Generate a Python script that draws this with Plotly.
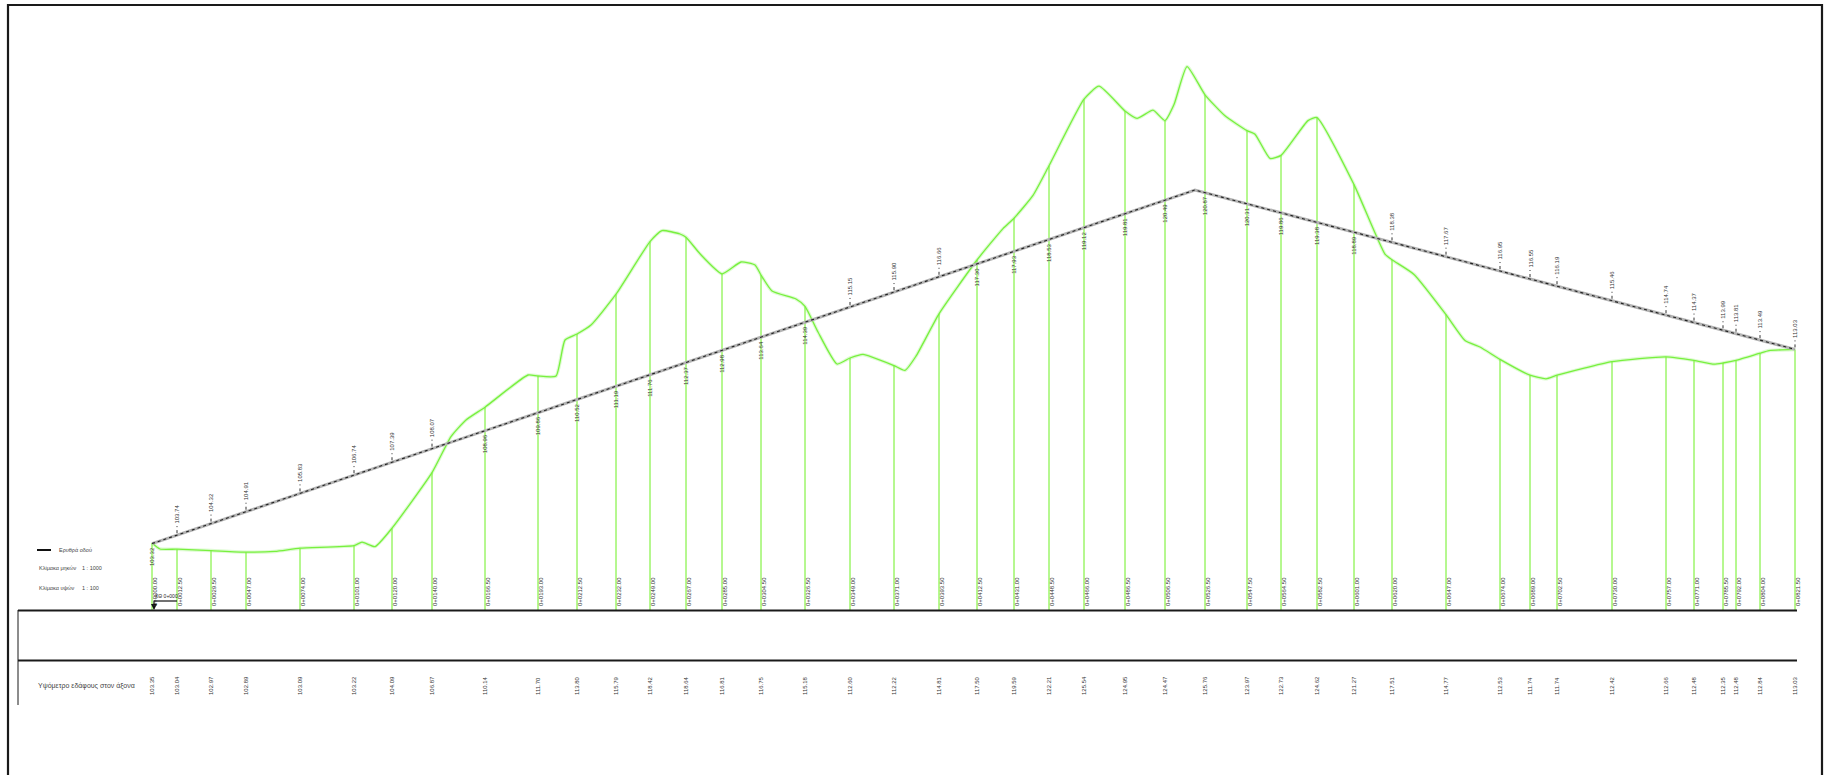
import numpy as np
import plotly.graph_objects as go

# ---------------- data (chainage in m, elevations in m) ----------------
DATUM = 100.0

station_ch = [0, 12.5, 29.5, 47, 74, 101, 120, 140, 166.5, 193,
              212.5, 232, 249, 267, 285, 304.5, 326.5, 349, 371, 393.5,
              412.5, 431, 448.5, 466, 486.5, 506.5, 526.5, 547.5, 564.5, 582.5,
              601, 620, 647, 674, 689, 702.5, 730, 757, 771, 785.5,
              792, 804, 821.5]
station_ground = [103.35, 103.04, 102.97, 102.89, 103.09, 103.22, 104.09, 106.87, 110.14, 111.70,
                  113.80, 115.79, 118.42, 118.64, 116.81, 116.75, 115.18, 112.60, 112.22, 114.81,
                  117.50, 119.59, 122.21, 125.54, 124.95, 124.47, 125.76, 123.97, 122.73, 124.62,
                  121.27, 117.51, 114.77, 112.53, 111.74, 111.74, 112.42, 112.66, 112.48, 112.35,
                  112.48, 112.84, 113.03]

ground_ch = [0, 4, 12.5, 29.5, 47, 61.5, 74, 101, 105, 111.5, 120, 140, 149.5, 157, 166.5,
             188, 193, 202, 206.5, 212.5, 219.5, 232, 249, 255, 264, 267, 274, 285, 294.5,
             301.5, 304.5, 310, 322, 326.5, 333, 342.5, 349, 355.5, 371, 376.5, 382, 393.5,
             412.5, 425.5, 431, 440.5, 448.5, 466, 473.5, 486.5, 492.5, 500.5, 506.5, 511,
             517.5, 526.5, 536.5, 547.5, 551.5, 559, 564.5, 578, 582.5, 601, 616.5, 620, 631,
             647, 656.5, 664, 674, 689, 697, 702.5, 730, 757, 771, 781, 785.5, 792, 804,
             808.5, 821.5]
ground_el = [103.35, 103.05, 103.04, 102.97, 102.89, 102.93, 103.09, 103.22, 103.39, 103.17,
             104.09, 106.87, 108.67, 109.50, 110.14, 111.75, 111.70, 111.70, 113.50, 113.80,
             114.25, 115.79, 118.42, 118.97, 118.80, 118.64, 117.81, 116.81, 117.40, 117.25,
             116.75, 115.95, 115.55, 115.18, 113.90, 112.30, 112.60, 112.78, 112.22, 111.98,
             112.69, 114.81, 117.50, 119.07, 119.59, 120.73, 122.21, 125.54, 126.19, 124.95,
             124.58, 124.99, 124.47, 125.27, 127.17, 125.76, 124.71, 123.97, 123.79, 122.58,
             122.73, 124.47, 124.62, 121.27, 117.79, 117.51, 116.78, 114.77, 113.48, 113.15,
             112.53, 111.74, 111.56, 111.74, 112.42, 112.66, 112.48, 112.29, 112.35, 112.48,
             112.84, 112.97, 113.03]

grade_ch = [0, 521.5, 821.5]
grade_el = [103.32, 121.00, 113.03]

legend_label = "Ερυθρά οδού"
scale_labels = [("Κλίμακα μηκών", "1 : 1000"), ("Κλίμακα υψών", "1 : 100")]
row_label = "Υψόμετρο εδάφους στον άξονα"
start_label = "ΧΘ 0+000"

# ---------------- figure geometry ----------------
W, H = 1829, 775
X0, X1 = -76.0, 838.5          # chainage at left / right edge of the page
Y0, Y1 = 91.75, 130.5          # elevation at bottom / top edge of the page
PXM = (X1 - X0) / W            # metres per pixel (horizontal)
PYM = (Y1 - Y0) / H            # metres per pixel (vertical)

def px(xp):  # paper x from pixel
    return xp / W

def py(yp):  # paper y from pixel
    return 1 - yp / H

FONT = "Liberation Sans Narrow, Liberation Sans, Arial"
GREEN = "#78F03E"
VGREEN = "#6CF020"

fig = go.Figure()

# verticals from ground to datum at each station
vx, vy = [], []
for s, g in zip(station_ch, station_ground):
    vx += [s, s, None]
    vy += [g, DATUM, None]
fig.add_trace(go.Scatter(x=vx, y=vy, mode="lines",
                         line=dict(color=VGREEN, width=1), hoverinfo="skip"))

# ground line
fig.add_trace(go.Scatter(x=ground_ch, y=ground_el, mode="lines",
                         line=dict(color="rgba(120,240,70,0.25)", width=3.5, shape="spline", smoothing=0.5),
                         hoverinfo="skip"))
fig.add_trace(go.Scatter(x=ground_ch, y=ground_el, mode="lines",
                         line=dict(color=GREEN, width=1.3, shape="spline", smoothing=0.5),
                         hoverinfo="skip"))

# grade (design) line
fig.add_trace(go.Scatter(x=grade_ch, y=grade_el, mode="lines",
                         line=dict(color="#B4B4B4", width=3), hoverinfo="skip"))
fig.add_trace(go.Scatter(x=grade_ch, y=grade_el, mode="lines",
                         line=dict(color="#222222", width=1.1, dash="dot"), hoverinfo="skip"))

annotations = []
grade_at = np.interp(station_ch, grade_ch, grade_el)

# ticks above grade line for fill stations
tx, ty = [], []
for s, g, r in zip(station_ch, station_ground, grade_at):
    if g <= r + 0.001:
        tx += [s, s, None]
        ty += [r + 2 * PYM, r + 9 * PYM, None]
fig.add_trace(go.Scatter(x=tx, y=ty, mode="lines",
                         line=dict(color="#333333", width=1, dash="dot"), hoverinfo="skip"))

small = dict(family=FONT, size=6, color="#333333")
for i, (s, g, r) in enumerate(zip(station_ch, station_ground, grade_at)):
    # grade elevation labels
    if g <= r + 0.001:
        annotations.append(dict(x=s, y=r + 9 * PYM, text=f"{r:.2f}", textangle=-90,
                                showarrow=False, xanchor="center", yanchor="bottom", font=small))
    else:
        annotations.append(dict(x=s, y=r - 2 * PYM, text=f"{r:.2f}", textangle=-90,
                                showarrow=False, xanchor="center", yanchor="top", font=small))
    # chainage labels above datum
    km = int(s // 1000)
    annotations.append(dict(x=s + 2.5 * PXM, y=DATUM + 2 * PYM,
                            text=f"{km}+{s - km * 1000:07.2f}", textangle=-90,
                            showarrow=False, xanchor="center", yanchor="bottom", font=small))
    # ground elevation row
    annotations.append(dict(x=s, y=DATUM - 76 * PYM, text=f"{g:.2f}", textangle=-90,
                            showarrow=False, xanchor="center", yanchor="middle", font=small))

# start marker
fig.add_trace(go.Scatter(x=[station_ch[0] + 2 * PXM, station_ch[1]],
                         y=[DATUM + 9 * PYM, DATUM + 9 * PYM], mode="lines",
                         line=dict(color="#111", width=1.2), hoverinfo="skip"))
fig.add_annotation(x=station_ch[0] + 2 * PXM, y=DATUM, ax=0, ay=-11, axref="pixel", ayref="pixel",
                   showarrow=True, arrowhead=2, arrowsize=1, arrowwidth=1.2, arrowcolor="#111", text="")
annotations.append(dict(x=(station_ch[0] + station_ch[1]) / 2 + 1, y=DATUM + 9.5 * PYM,
                        text=start_label, showarrow=False, xanchor="center", yanchor="bottom",
                        font=dict(family=FONT, size=5, color="#222")))

# legend and scales (page layout text)
lab = dict(family=FONT, size=5.5, color="#444444")
annotations.append(dict(xref="paper", yref="paper", x=px(57), y=py(550), text=legend_label,
                        showarrow=False, xanchor="left", yanchor="middle", font=lab))
for k, (a, b) in enumerate(scale_labels):
    yy = 568 + 20 * k
    annotations.append(dict(xref="paper", yref="paper", x=px(37), y=py(yy), text=a,
                            showarrow=False, xanchor="left", yanchor="middle", font=lab))
    annotations.append(dict(xref="paper", yref="paper", x=px(80), y=py(yy), text=b,
                            showarrow=False, xanchor="left", yanchor="middle", font=lab))
annotations.append(dict(xref="paper", yref="paper", x=px(36), y=py(686), text=row_label,
                        showarrow=False, xanchor="left", yanchor="middle",
                        font=dict(family=FONT, size=7, color="#444444")))

for a in annotations:
    fig.add_annotation(**a)

shapes = [
    # outer frame
    dict(type="rect", xref="paper", yref="paper", x0=px(8), x1=px(1822), y0=py(800), y1=py(5),
         line=dict(color="#1a1a1a", width=2.2)),
    # legend line
    dict(type="line", xref="paper", yref="paper", x0=px(37), x1=px(51), y0=py(550), y1=py(550),
         line=dict(color="#111", width=2)),
    # table lines
    dict(type="line", xref="paper", yref="paper", x0=px(18), x1=px(1797), y0=py(610.5), y1=py(610.5),
         line=dict(color="#1a1a1a", width=2.2)),
    dict(type="line", xref="paper", yref="paper", x0=px(18), x1=px(1797), y0=py(660.5), y1=py(660.5),
         line=dict(color="#1a1a1a", width=2.2)),
    dict(type="line", xref="paper", yref="paper", x0=px(18), x1=px(18), y0=py(610), y1=py(705),
         line=dict(color="#1a1a1a", width=1)),
]

fig.update_layout(
    width=W, height=H,
    margin=dict(l=0, r=0, t=0, b=0),
    paper_bgcolor="white", plot_bgcolor="white",
    showlegend=False,
    xaxis=dict(range=[X0, X1], visible=False, fixedrange=True),
    yaxis=dict(range=[Y0, Y1], visible=False, fixedrange=True),
    shapes=shapes,
)

fig.write_html("out.html", config={"displayModeBar": False})
